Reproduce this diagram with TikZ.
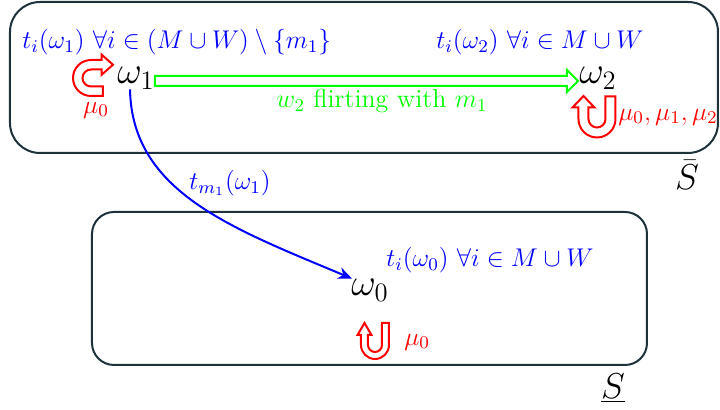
\documentclass[tikz,border=0pt]{standalone}
\usepackage{fix-cm}
\usetikzlibrary{arrows.meta,calc}
\definecolor{boxc}{RGB}{30,50,60}
\newcommand\UTurn[6]{(#1,#6) -- (#1,0) arc[start angle=0,end angle=-180,radius=#1] -- (-#1,#3) -- ({-(#1+#2)/2-#5},#3) -- ({-(#1+#2)/2},#4) -- ({-(#1+#2)/2+#5},#3) -- (-#2,#3) -- (-#2,0) arc[start angle=180,end angle=360,radius=#2] -- (#2,#6) -- cycle}
\begin{document}
\begin{tikzpicture}[x=0.5pt,y=0.5pt,
  region/.style={draw=boxc,line width=1pt},
  setname/.style={inner sep=0pt,font=\fontsize{18}{20}\selectfont},
  state/.style={inner sep=0pt,font=\fontsize{19}{22}\selectfont},
  bluetxt/.style={inner sep=0pt,text=blue,font=\fontsize{12.8}{15}\selectfont},
  greentxt/.style={inner sep=0pt,text=green,font=\fontsize{13}{15}\selectfont},
  redtxt/.style={inner sep=0pt,text=red,font=\fontsize{12.8}{15}\selectfont},
  loopshape/.style={draw=red,line width=1pt,fill=white},
  flow/.style={draw=green,line width=1pt,fill=white},
  trans/.style={draw=blue,line width=1pt,-{Stealth[length=7pt,width=6pt]}}]
\useasboundingbox (0,0) rectangle (720,-410);
% regions
\draw[region,rounded corners=15pt] (10,-2) rectangle (718,-153);
\draw[region,rounded corners=11pt] (92,-212) rectangle (647,-365);
\node[setname] (sbar) at (687,-175) {$\bar{S}$};
\node[setname] (sund) at (613,-388) {$\underline{S}$};
% states
\node[state] (w1) at (136,-78) {$\omega_1$};
\node[state] (w2) at (598,-78) {$\omega_2$};
\node[state] (w0) at (370,-290) {$\omega_0$};
% utility labels
\node[bluetxt,anchor=west] (t1) at (22,-42) {$t_i(\omega_1)\ \forall i\in (M\cup W)\setminus\{m_1\}$};
\node[bluetxt,anchor=west] (t2) at (436,-42) {$t_i(\omega_2)\ \forall i\in M\cup W$};
\node[bluetxt,anchor=west] (t0) at (386,-260) {$t_i(\omega_0)\ \forall i\in M\cup W$};
% green flow arrow
\coordinate (gs) at (155,-81);
\coordinate (ge) at (578,-81);
\draw[flow] ($(gs)+(0,5)$) -- ($(ge)+(-11,5)$) -- ($(ge)+(-11,11)$) -- (ge) -- ($(ge)+(-11,-11)$) -- ($(ge)+(-11,-5)$) -- ($(gs)+(0,-5)$) -- cycle;
\node[greentxt] (gl) at (382,-101) {$w_2$ flirting with $m_1$};
% transition
\coordinate (ts) at ($(w1.south)+(-6,0)$);
\coordinate (te) at ($(w0.north west)+(1,0)$);
\draw[trans] (ts) .. controls ($(ts)+(2,-102)$) and ($(te)+(-122,51)$) .. (te);
\node[bluetxt] (tl) at (230,-183) {$t_{m_1}(\omega_1)$};
% loops
\begin{scope}[shift={(91,-78)},rotate=-90]
\draw[loopshape] \UTurn{18}{8.5}{10.7}{22}{10}{12};
\end{scope}
\node[redtxt] (l1) at (96,-110) {$\mu_0$};
\begin{scope}[shift={(597,-119)}]
\draw[loopshape] \UTurn{18.5}{8.5}{11.5}{23}{11}{22.5};
\end{scope}
\node[redtxt,anchor=west] (l2) at (618,-117) {$\mu_0,\mu_1,\mu_2$};
\begin{scope}[shift={(375,-345)}]
\draw[loopshape] \UTurn{14}{7}{10}{22}{7}{22};
\end{scope}
\node[redtxt,anchor=west] (l0) at (404,-342) {$\mu_0$};
\end{tikzpicture}
\end{document}
